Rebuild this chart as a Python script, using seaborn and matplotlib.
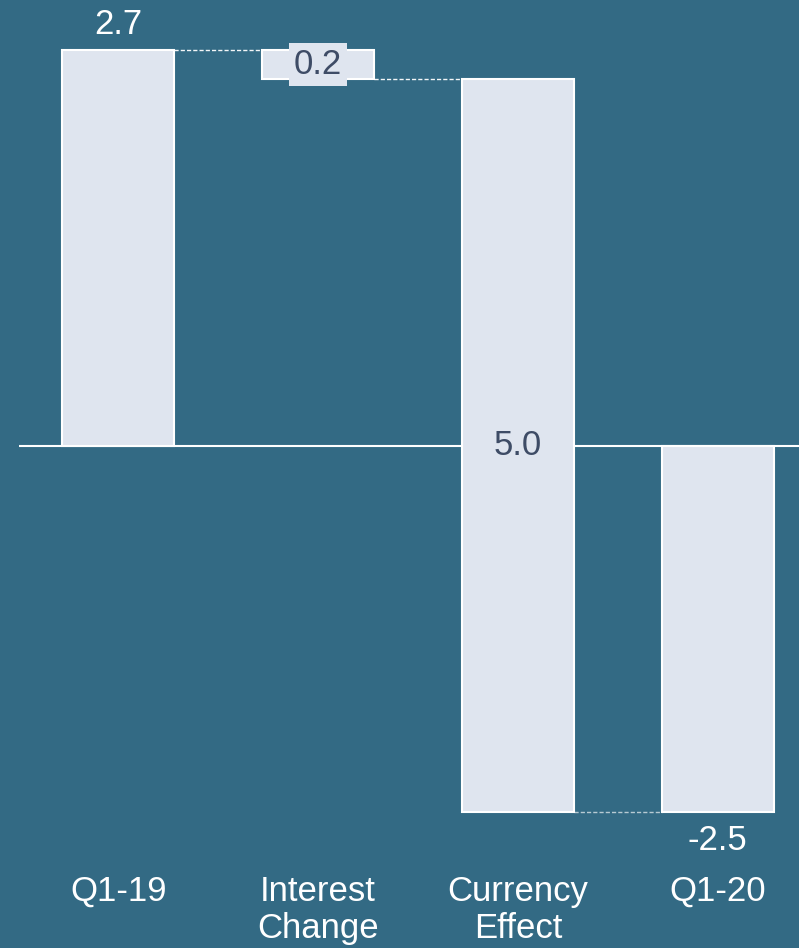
import matplotlib
matplotlib.use("Agg")
import matplotlib.pyplot as plt
import seaborn as sns
import pandas as pd

categories = ["Q1-19", "Interest\nChange", "Currency\nEffect", "Q1-20"]
bar_bottoms = [0.0, 2.5, -2.5, 0.0]
bar_heights = [2.7, 0.2, 5.0, -2.5]
value_labels = ["2.7", "0.2", "5.0", "-2.5"]
label_levels = [2.7, 2.6, 0.0, -2.5]
label_inside = [False, True, True, False]
connector_levels = [2.7, 2.5, -2.5]

BG = "#336A84"
BAR = "#DFE5EF"
DARK = "#3E4C66"

sns.set_theme(style="white")
plt.rcParams["font.family"] = ["Liberation Sans", "DejaVu Sans"]

fig = plt.figure(figsize=(7.99, 9.48), dpi=100, facecolor=BG)
ax = fig.add_axes([18.5 / 799, 77 / 948, 799 / 799, (871 - 6) / 948])
ax.set_facecolor(BG)

df = pd.DataFrame({"cat": categories, "h": bar_heights})
sns.barplot(data=df, x="cat", y="h", bottom=bar_bottoms, color=BAR,
            saturation=1, width=0.56, edgecolor="white", linewidth=1.5,
            ax=ax, zorder=3, errorbar=None)

ax.axhline(0, color="white", lw=1.5, zorder=1)

half = 0.28
for i, lvl in enumerate(connector_levels):
    ax.plot([i + half, i + 1 - half], [lvl, lvl], ls=(0, (3, 1.5)),
            color="white", lw=1.0, zorder=2, alpha=0.95 if i < 2 else 0.65)

for i, (txt, lvl, inside) in enumerate(zip(value_labels, label_levels, label_inside)):
    if inside:
        ax.text(i, lvl, txt, ha="center", va="center", fontsize=25, color=DARK,
                zorder=5, bbox=dict(boxstyle="square,pad=0.15", fc=BAR, ec="none"))
    else:
        off = 18 if lvl > 0 else -20
        ax.annotate(txt, (i, lvl), xytext=(0, off), textcoords="offset points",
                    ha="center", va="center", fontsize=25, color="white", zorder=5)

ax.set_xlim(-0.5, 3.5)
ax.set_ylim(-2.9, 3.0)
ax.set_xlabel("")
ax.set_ylabel("")
ax.set_yticks([])
ax.tick_params(axis="x", length=0, pad=3, labelsize=25, labelcolor="white")
for lab in ax.get_xticklabels():
    lab.set_linespacing(1.15)
for s in ax.spines.values():
    s.set_visible(False)

fig.savefig("out.png", dpi=100, facecolor=BG)
